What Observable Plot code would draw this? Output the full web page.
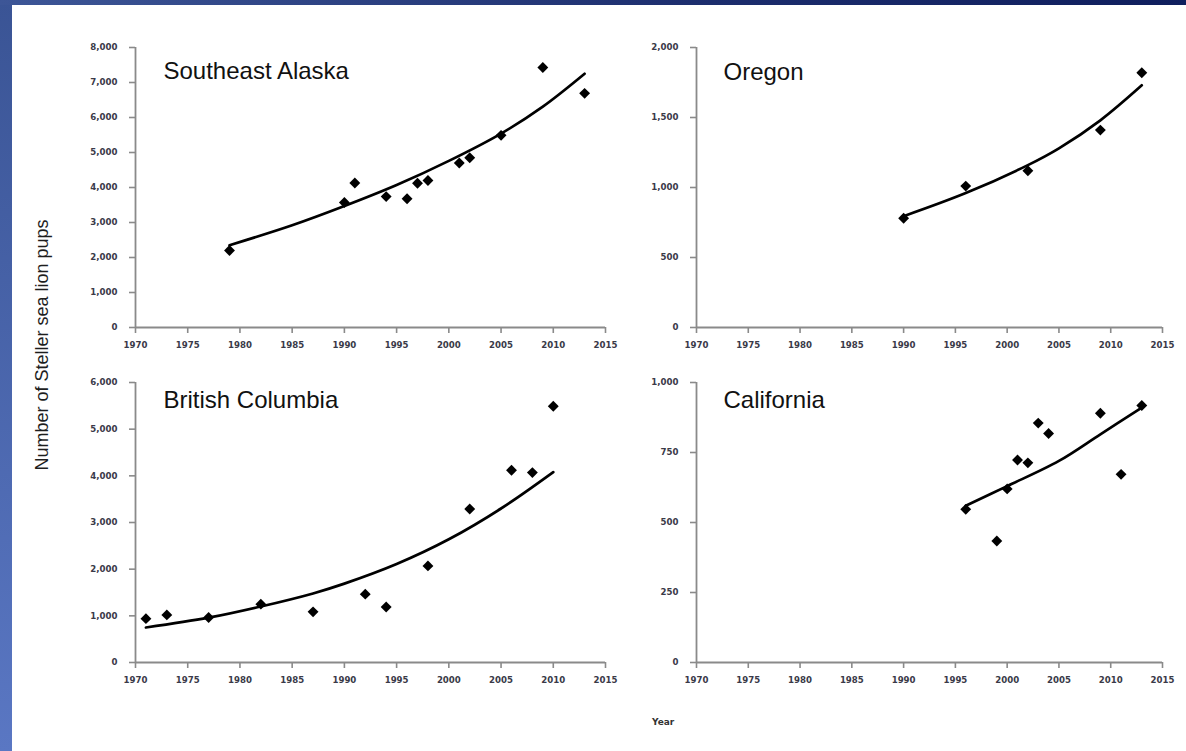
<!DOCTYPE html>
<html>
<head>
<meta charset="utf-8">
<script src="https://cdn.jsdelivr.net/npm/d3@7"></script>
<script src="https://cdn.jsdelivr.net/npm/@observablehq/plot@0.6"></script>
<style>
  body { margin: 0; background: #fff; }
  #page { position: relative; width: 1186px; height: 751px; background: #fff; overflow: hidden; font-family: "Liberation Sans", Arial, sans-serif; }
  #lstrip { position: absolute; left: 0; top: 0; width: 12px; height: 751px; background: linear-gradient(#3a5495, #5a77c3); }
  #tstrip { position: absolute; left: 0; top: 0; width: 1186px; height: 5px; background: linear-gradient(90deg, #3d5697, #1c2d6d 60%, #0f1e5d); }
  .panel { position: absolute; }
  #ytitle { position: absolute; left: 42px; top: 345px; transform: translate(-50%, -50%) rotate(-90deg); font-size: 18px; white-space: nowrap; color: #1e1e1e; }
  #xtitle { position: absolute; left: 652px; top: 717px; font-family: "DejaVu Sans", Verdana, sans-serif; font-size: 9px; font-weight: bold; color: #333; }
</style>
</head>
<body>
<div id="page">
  <div id="lstrip"></div>
  <div id="tstrip"></div>
  <div id="ytitle">Number of Steller sea lion pups</div>
  <div id="xtitle">Year</div>
  <div id="p1" class="panel" style="left:60px; top:30px;"></div>
  <div id="p2" class="panel" style="left:621px; top:30px;"></div>
  <div id="p3" class="panel" style="left:60px; top:365px;"></div>
  <div id="p4" class="panel" style="left:621px; top:365px;"></div>
</div>
<script>
// ---- Tick values ----
const xTicks = [1970, 1975, 1980, 1985, 1990, 1995, 2000, 2005, 2010, 2015];
const seakTicks = [0, 1000, 2000, 3000, 4000, 5000, 6000, 7000, 8000];
const oregonTicks = [0, 500, 1000, 1500, 2000];
const bcTicks = [0, 1000, 2000, 3000, 4000, 5000, 6000];
const caTicks = [0, 250, 500, 750, 1000];

// ---- Southeast Alaska ----
const seakYears = [1979, 1990, 1991, 1994, 1996, 1997, 1998, 2001, 2002, 2005, 2009, 2013];
const seakPups  = [2200, 3570, 4130, 3740, 3680, 4120, 4200, 4700, 4850, 5490, 7430, 6690];
const seakFitYears = [1979, 1985, 1990, 1995, 2000, 2005, 2009, 2013];
const seakFit      = [2350, 2920, 3470, 4070, 4760, 5540, 6310, 7250];

// ---- Oregon ----
const orYears = [1990, 1996, 2002, 2009, 2013];
const orPups  = [780, 1010, 1120, 1410, 1820];
const orFitYears = [1990, 1996, 2002, 2005, 2009, 2013];
const orFit      = [795, 960, 1160, 1280, 1480, 1730];

// ---- British Columbia ----
const bcYears = [1971, 1973, 1977, 1982, 1987, 1992, 1994, 1998, 2002, 2006, 2008, 2010];
const bcPups  = [940, 1020, 965, 1250, 1085, 1465, 1190, 2070, 3290, 4120, 4070, 5490];
const bcFitYears = [1971, 1977, 1982, 1987, 1990, 1995, 2000, 2005, 2010];
const bcFit      = [750, 960, 1200, 1480, 1690, 2110, 2640, 3300, 4080];

// ---- California ----
const caYears = [1996, 1999, 2000, 2001, 2002, 2003, 2004, 2009, 2011, 2013];
const caPups  = [547, 434, 620, 723, 713, 855, 818, 890, 672, 918];
const caFitYears = [1996, 2000, 2005, 2009, 2013];
const caFit      = [560, 630, 720, 815, 910];

const axisGrey = "#8a8a8a";
const labelColor = "#3a3a48";

function panel({title, years, pups, fitYears, fit, yMax, yTicks, width, frameW, dx, dy}) {
  const pts = years.map((x, i) => ({x, y: pups[i]}));
  const line = fitYears.map((x, i) => ({x, y: fit[i]}));
  return Plot.plot({
    width: width,
    height: 340,
    marginLeft: 75,
    marginRight: width - 75 - frameW,
    marginTop: 17,
    marginBottom: 43,
    style: { fontFamily: "'DejaVu Sans', Verdana, sans-serif", fontSize: "8.6px", fontWeight: "bold", background: "transparent", overflow: "visible" },
    x: { domain: [1970, 2015] },
    y: { domain: [0, yMax] },
    marks: [
      Plot.axisX({ ticks: xTicks, tickFormat: d3.format("d"), tickSize: 6, tickPadding: 8, stroke: axisGrey, strokeWidth: 1.6, fill: labelColor, label: null }),
      Plot.axisY({ ticks: yTicks, tickFormat: d3.format(","), tickSize: 6, tickPadding: 12, stroke: axisGrey, strokeWidth: 1.6, fill: labelColor, label: null }),
      Plot.ruleY([0], { stroke: axisGrey, strokeWidth: 1.8 }),
      Plot.ruleX([1970], { stroke: axisGrey, strokeWidth: 1.8 }),
      Plot.line(line, { x: "x", y: "y", curve: "catmull-rom", stroke: "#000", strokeWidth: 2.7 }),
      Plot.dot(pts, { x: "x", y: "y", symbol: "diamond2", r: 4.9, fill: "#000", stroke: "none" }),
      Plot.text([title], { frameAnchor: "top-left", dx: dx, dy: dy, text: d => d, fontFamily: "'Liberation Sans', Arial, sans-serif", fontSize: 24, fontWeight: "normal", textAnchor: "start", lineAnchor: "top", fill: "#111" })
    ]
  });
}

document.getElementById("p1").append(panel({ title: "Southeast Alaska", years: seakYears, pups: seakPups, fitYears: seakFitYears, fit: seakFit, yMax: 8000, yTicks: seakTicks, width: 570, frameW: 470, dx: 28, dy: 14 }));
document.getElementById("p2").append(panel({ title: "Oregon", years: orYears, pups: orPups, fitYears: orFitYears, fit: orFit, yMax: 2000, yTicks: oregonTicks, width: 565, frameW: 466, dx: 27, dy: 15 }));
document.getElementById("p3").append(panel({ title: "British Columbia", years: bcYears, pups: bcPups, fitYears: bcFitYears, fit: bcFit, yMax: 6000, yTicks: bcTicks, width: 570, frameW: 470, dx: 28, dy: 8 }));
document.getElementById("p4").append(panel({ title: "California", years: caYears, pups: caPups, fitYears: caFitYears, fit: caFit, yMax: 1000, yTicks: caTicks, width: 565, frameW: 466, dx: 27, dy: 8 }));
</script>
</body>
</html>
